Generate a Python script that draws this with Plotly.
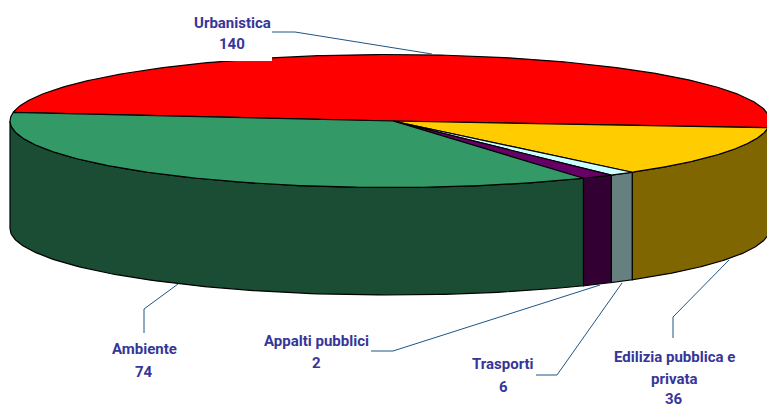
import numpy as np
import plotly.graph_objects as go

categories = ["Urbanistica", "Edilizia pubblica e privata", "Trasporti", "Appalti pubblici", "Ambiente"]
values = [140, 36, 6, 2, 74]
# Slice sweep as actually drawn in the picture (degrees of the pie's ellipse)
drawn_sweep = [178.3, 44.6, 4.0, 5.0, 128.1]
top_colors = ["#FF0000", "#FFCC00", "#CCFFFF", "#660066", "#339966"]
side_colors = ["#800000", "#806600", "#668080", "#330033", "#1A4D33"]

START = 187.5
CX, CY, RX, RY, DEPTH = 390, 121, 380, 66.5, 107.5
APEX_X = 393
TEXT = "#363699"
LEADER = "#1F5583"
FONT = "Roboto"
FS = 15
EDGE = dict(color="#000000", width=1.2)


def ell(t):
    r = np.radians(t)
    return CX + RX * np.cos(r), CY + RY * np.sin(r)


fig = go.Figure()
starts = START + np.concatenate([[0], np.cumsum(drawn_sweep)[:-1]])
ends = starts + np.array(drawn_sweep)
common = dict(mode="lines", fill="toself", hoverinfo="skip", showlegend=False)

# walls: only the front half of the rim is visible
for s, e, c in zip(starts, ends, side_colors):
    for k in (0, 360):
        a, b = max(s - k, 0), min(e - k, 180)
        if b <= a:
            continue
        t = np.linspace(a, b, 120)
        x, y = ell(t)
        fig.add_trace(go.Scatter(
            x=np.r_[x, x[::-1], x[0]], y=np.r_[y, y[::-1] + DEPTH, y[0]],
            fillcolor=c, line=EDGE, **common))

# top faces
for s, e, c in zip(starts, ends, top_colors):
    t = np.linspace(s, e, 240)
    x, y = ell(t)
    fig.add_trace(go.Scatter(
        x=np.r_[APEX_X, x, APEX_X], y=np.r_[CY, y, CY],
        fillcolor=c, line=EDGE, **common))

# leader lines
leaders = [
    ([272, 295, 432], [32, 32, 54]),
    ([144, 144, 178], [333, 309, 284]),
    ([371, 393, 600], [351, 351, 285]),
    ([536, 557, 622], [375, 375, 283]),
    ([673, 673, 729], [338, 317, 260]),
]
for lx, ly in leaders:
    fig.add_trace(go.Scatter(x=lx, y=ly, mode="lines", hoverinfo="skip", showlegend=False,
                             line=dict(color=LEADER, width=1)))

# label placement (centre x, y of each text line)
label_lines = [
    (232, [(categories[0], 23), (str(values[0]), 44)]),
    (674, [("Edilizia pubblica e", 357), ("privata", 379), (str(values[1]), 398.5)]),
    (503, [(categories[2], 364), (str(values[2]), 387)]),
    (316, [(categories[3], 341), (str(values[3]), 363)]),
    (144, [(categories[4], 349), (str(values[4]), 372)]),
]
ann = []
for cx, lines in label_lines:
    for txt, y in lines:
        ann.append(dict(x=cx, y=y, text=f"<b>{txt}</b>", showarrow=False, xanchor="center", yanchor="middle",
                        font=dict(family=FONT, size=FS, color=TEXT)))

fig.update_layout(
    width=767, height=408, margin=dict(l=0, r=0, t=0, b=0),
    paper_bgcolor="white", plot_bgcolor="white",
    xaxis=dict(range=[0, 767], visible=False, fixedrange=True),
    yaxis=dict(range=[408, 0], visible=False, fixedrange=True),
    annotations=ann,
    shapes=[dict(type="rect", xref="x", yref="y", x0=185, x1=272, y0=8, y1=61,
                 fillcolor="white", line=dict(width=0), layer="above")],
)
fig.write_html("out.html", config=dict(displayModeBar=False),
               post_script="document.body.style.margin='0';document.documentElement.style.overflow='hidden';")
